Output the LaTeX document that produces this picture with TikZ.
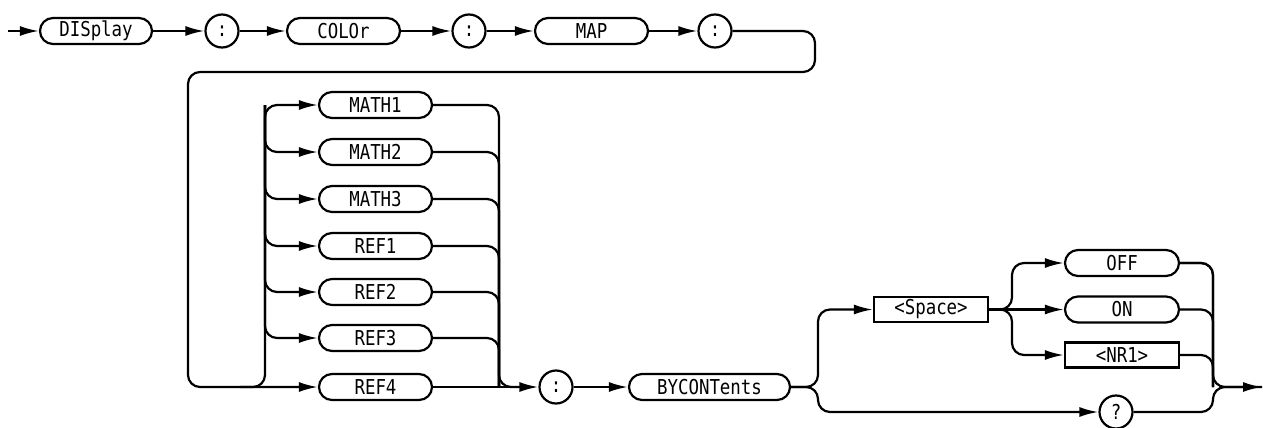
\documentclass[tikz,border=0pt]{standalone}
\usepackage{fontspec}
\setmonofont[FakeStretch=0.85]{DejaVu Sans Mono}
\usetikzlibrary{arrows.meta}
\begin{document}
\begin{tikzpicture}[x=1pt,y=-1pt,
  every node/.style={font=\ttfamily\fontsize{20.5}{20.5}\selectfont, line width=2.2pt, inner sep=0pt},
  line/.style={line width=2.2pt, rounded corners=12pt},
  arr/.style={line width=2.2pt, rounded corners=12pt, -{Latex[length=19pt,width=10pt]}},
  term/.style={draw, rounded corners=13pt, minimum height=26pt, minimum width=113pt},
  sym/.style={draw, circle, minimum size=33pt},
  nonterm/.style={draw, rectangle, minimum height=25pt, minimum width=114pt}]
\useasboundingbox (0,0) rectangle (1263,428);
\coordinate (start) at (8,31);
\node[term, minimum width=112pt] (disp) at (96,31) {DISplay};
\node[sym] (c1) at (222,31) {:};
\node[term] (color) at (343.5,31) {COLOr};
\node[sym] (c2) at (469,31) {:};
\node[term] (map) at (591.5,31) {MAP};
\node[sym] (c3) at (715,31) {:};
\node[term] (m1) at (375.5,105) {MATH1};
\node[term] (m2) at (375.5,152) {MATH2};
\node[term] (m3) at (375.5,199) {MATH3};
\node[term] (r1) at (375.5,246) {REF1};
\node[term] (r2) at (375.5,292) {REF2};
\node[term] (r3) at (375.5,338) {REF3};
\node[term] (r4) at (375.5,387) {REF4};
\node[sym] (c4) at (556,387) {:};
\node[term, minimum width=161pt] (byc) at (709.5,387) {BYCONTents};
\node[nonterm] (sp) at (931,309.5) {<Space>};
\node[term, minimum width=114pt] (off) at (1122,263) {OFF};
\node[term, minimum width=114pt] (on) at (1122,309.5) {ON};
\node[nonterm] (nr) at (1122,355) {<NR1>};
\node[sym] (q) at (1116,412) {?};
\coordinate (end) at (1262,387);
% top row
\draw[arr] (start) -- (disp);
\draw[arr] (disp) -- (c1);
\draw[arr] (c1) -- (color);
\draw[arr] (color) -- (c2);
\draw[arr] (c2) -- (map);
\draw[arr] (map) -- (c3);
% return loop
\draw[arr] (c3.east) -- (815,31) -- (815,72) -- (188,72) -- (188,387) -- (r4.west);
% branch in
\draw[arr] (240,387) -| (265,105) -- (m1.west);
\foreach \n in {m2,m3,r1,r2,r3}
  \draw[arr] (265,105) |- (\n.west);
% merge out
\draw[line] (m1.east) -| (499,387) -- (520,387);
\foreach \n in {m2,m3,r1,r2,r3}
  \draw[line] (\n.east) -| (499,387);
\draw[arr] (r4.east) -- (c4.west);
\draw[arr] (c4) -- (byc);
% after BYCONTents
\draw[arr] (byc.east) -| (818,309.5) -- (sp.west);
\draw[arr] (byc.east) -| (818,412) -- (q.west);
\draw[arr] (sp.east) -| (1012,263) -- (off.west);
\draw[arr] (sp.east) -- (on.west);
\draw[arr] (sp.east) -| (1012,355) -- (nr.west);
\draw[line] (off.east) -| (1213,387);
\draw[line] (on.east) -| (1213,387);
\draw[line] (nr.east) -| (1213,387);
\draw[arr] (q.east) -| (1213,387) -- (end);
\draw[line] (off.east) -| (1213,387) -- (end);
\end{tikzpicture}
\end{document}
